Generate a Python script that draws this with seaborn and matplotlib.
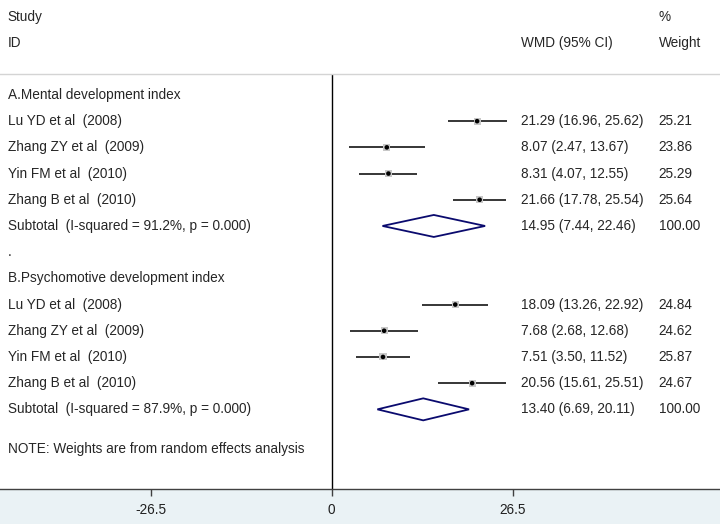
import matplotlib
matplotlib.use("Agg")
import matplotlib.pyplot as plt
import seaborn as sns
import pandas as pd
import numpy as np

# --- data ---
studies = ["Lu YD et al  (2008)", "Zhang ZY et al  (2009)",
           "Yin FM et al  (2010)", "Zhang B et al  (2010)"]

mdi_wmd = [21.29, 8.07, 8.31, 21.66]
mdi_lo = [16.96, 2.47, 4.07, 17.78]
mdi_hi = [25.62, 13.67, 12.55, 25.54]
mdi_weight = [25.21, 23.86, 25.29, 25.64]
mdi_sub = (14.95, 7.44, 22.46)
mdi_sub_label = "Subtotal  (I-squared = 91.2%, p = 0.000)"

pdi_wmd = [18.09, 7.68, 7.51, 20.56]
pdi_lo = [13.26, 2.68, 3.50, 15.61]
pdi_hi = [22.92, 12.68, 11.52, 25.51]
pdi_weight = [24.84, 24.62, 25.87, 24.67]
pdi_sub = (13.40, 6.69, 20.11)
pdi_sub_label = "Subtotal  (I-squared = 87.9%, p = 0.000)"

x_ticks = [-26.5, 0, 26.5]
x_tick_labels = ["-26.5", "0", "26.5"]

sns.set_style("white")
plt.rcParams["font.family"] = ["Liberation Sans", "DejaVu Sans"]

df = pd.DataFrame({
    "study": studies * 2,
    "wmd": mdi_wmd + pdi_wmd,
    "lo": mdi_lo + pdi_lo,
    "hi": mdi_hi + pdi_hi,
    "weight": mdi_weight + pdi_weight,
    "row": [1, 2, 3, 4, 8, 9, 10, 11],
})

fig = plt.figure(figsize=(7.2, 5.24), dpi=100)
# light band behind the x axis labels
band = fig.add_axes([0, 0, 1, 35 / 524], zorder=-1)
band.set_facecolor("#eaf2f5")
band.set_xticks([])
band.set_yticks([])
for s in band.spines.values():
    s.set_visible(False)

ax = fig.add_axes([0, 35 / 524, 1, 415 / 524], zorder=1)
ax.patch.set_alpha(0)
ax.set_xlim(-48.56, 56.85)
ax.set_ylim(15.04, -0.8)

fs = 9.8
txt_x = -47.4
ci_x = 27.7
w_x = 47.9

# header above plot area
ax.text(txt_x, -2.98, "Study", fontsize=fs, va="center", clip_on=False)
ax.text(txt_x, -1.98, "ID", fontsize=fs, va="center", clip_on=False)
ax.text(w_x, -2.98, "%", fontsize=fs, va="center", clip_on=False)
ax.text(w_x, -1.98, "Weight", fontsize=fs, va="center", clip_on=False)
ax.text(ci_x, -1.98, "WMD (95% CI)", fontsize=fs, va="center", clip_on=False)

# null line
ax.plot([0, 0], [-0.8, 15.04], color="black", lw=1.0, zorder=2)

# confidence intervals
ax.hlines(df["row"], df["lo"], df["hi"], color="black", lw=1.1, zorder=3)
# weight squares and point estimates
sns.scatterplot(data=df, x="wmd", y="row", marker="s", s=df["weight"] * 1.0,
                color="#c8c8c8", edgecolor="none", ax=ax, zorder=4, legend=False)
sns.scatterplot(data=df, x="wmd", y="row", marker="o", s=11,
                color="black", edgecolor="none", ax=ax, zorder=5, legend=False)

# study labels and estimates
for _, r in df.iterrows():
    ax.text(txt_x, r["row"], r["study"], fontsize=fs, va="center")
    ax.text(ci_x, r["row"], f"{r['wmd']:.2f} ({r['lo']:.2f}, {r['hi']:.2f})",
            fontsize=fs, va="center")
    ax.text(w_x, r["row"], f"{r['weight']:.2f}", fontsize=fs, va="center")

# group headers and subtotals
for head, row, sub, lab in [("A.Mental development index", 0, mdi_sub, mdi_sub_label),
                            ("B.Psychomotive development index", 7, pdi_sub, pdi_sub_label)]:
    ax.text(txt_x, row, head, fontsize=fs, va="center")
    m, lo, hi = sub
    sr = row + 5
    ax.fill([lo, m, hi, m, lo], [sr, sr - 0.42, sr, sr + 0.42, sr],
            facecolor="white", edgecolor="#0a0a6e", lw=1.3, zorder=4)
    ax.text(txt_x, sr, lab, fontsize=fs, va="center")
    ax.text(ci_x, sr, f"{m:.2f} ({lo:.2f}, {hi:.2f})", fontsize=fs, va="center")
    ax.text(w_x, sr, "100.00", fontsize=fs, va="center")

ax.text(txt_x, 6, ".", fontsize=fs, va="center")
ax.text(txt_x, 13.5, "NOTE: Weights are from random effects analysis", fontsize=fs, va="center")

# axes styling
for side in ["left", "right"]:
    ax.spines[side].set_visible(False)
ax.spines["top"].set_color("#d4d4d4")
ax.spines["top"].set_linewidth(1.0)
ax.spines["bottom"].set_color("#404040")
ax.spines["bottom"].set_linewidth(1.0)
ax.set_xticks(x_ticks)
ax.set_xticklabels(x_tick_labels, fontsize=fs)
ax.set_yticks([])
ax.tick_params(axis="x", direction="out", length=5, width=1, colors="#404040",
               labelcolor="#202020", pad=5, bottom=True, labelbottom=True)
ax.set_xlabel("")
ax.set_ylabel("")

fig.savefig("out.png", dpi=100)
